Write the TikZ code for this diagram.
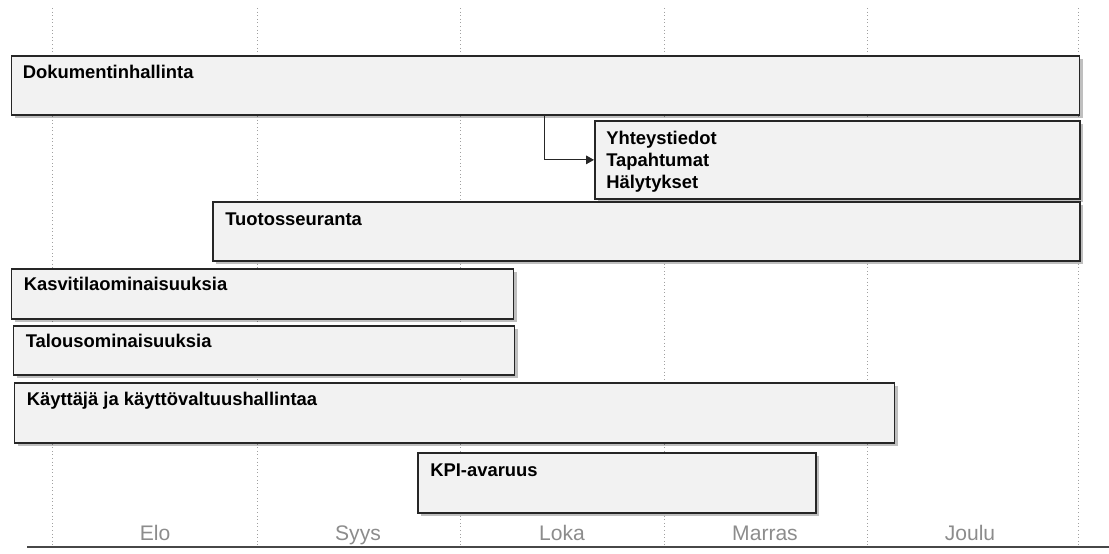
\documentclass[tikz,border=0pt]{standalone}
\usepackage{fontspec}
\setmainfont{Liberation Sans}
\usetikzlibrary{calc,shadows,arrows.meta}
\definecolor{boxfill}{HTML}{F2F2F2}
\definecolor{boxline}{HTML}{262626}
\definecolor{gridc}{HTML}{A0A0A0}
\definecolor{monthc}{HTML}{8C8C8C}
\tikzset{
  bar/.style={draw=boxline, line width=1.3pt, fill=boxfill, anchor=north west, inner sep=0pt,
    drop shadow={shadow xshift=2.4pt, shadow yshift=-2.4pt, fill=black, opacity=0.25}},
  bartext/.style={anchor=base west, inner sep=0pt, font=\fontsize{13.8}{16.5}\selectfont\bfseries, text=black, align=left},
  grid/.style={draw=gridc, dotted, line width=0.7pt},
  month/.style={font=\fontsize{15.8}{18}\selectfont, text=monthc, anchor=base},
  axis/.style={draw=boxline!85, line width=1.6pt}
}
\begin{document}
\begin{tikzpicture}[x=0.75pt,y=-0.75pt]
\useasboundingbox (0,0) rectangle (1109,553);
% grid lines
\foreach \gx/\gn in {52/g0,257/g1,460/g2,664/g3,867/g4,1078/g5}{
  \coordinate (\gn t) at (\gx,8);
  \coordinate (\gn b) at (\gx,546);
  \draw[grid] (\gn t) -- (\gn b);
}
% axis
\coordinate (axl) at (27,547);
\coordinate (axr) at (1109,547);
\draw[axis] (axl) -- (axr);
% months
\node[month] (m1) at (155,540) {Elo};
\node[month] (m2) at (358,540) {Syys};
\node[month] (m3) at (562,540) {Loka};
\node[month] (m4) at (765,540) {Marras};
\node[month] (m5) at (970,540) {Joulu};
% bars
\node[bar, minimum width={1068*0.75pt}, minimum height={59*0.75pt}] (doc) at (10.5,55) {};
\node[bartext] (doct) at ($(doc.north west)+(12,23)$) {Dokumentinhallinta};
\node[bar, minimum width={485*0.75pt}, minimum height={78*0.75pt}] (yht) at (594,120) {};
\node[bartext] (yhtt1) at ($(yht.north west)+(12,24)$) {Yhteystiedot};
\node[bartext] (yhtt2) at ($(yht.north west)+(12,46)$) {Tapahtumat};
\node[bartext] (yhtt3) at ($(yht.north west)+(12,68)$) {Hälytykset};
\node[bar, minimum width={867*0.75pt}, minimum height={59*0.75pt}] (tuo) at (212,201) {};
\node[bartext] (tuot) at ($(tuo.north west)+(13,24)$) {Tuotosseuranta};
\node[bar, minimum width={502*0.75pt}, minimum height={50*0.75pt}] (kas) at (10.5,268) {};
\node[bartext] (kast) at ($(kas.north west)+(13,22)$) {Kasvitilaominaisuuksia};
\node[bar, minimum width={501*0.75pt}, minimum height={49*0.75pt}] (tal) at (12.5,325) {};
\node[bartext] (talt) at ($(tal.north west)+(13,22)$) {Talousominaisuuksia};
\node[bar, minimum width={880*0.75pt}, minimum height={60*0.75pt}] (kay) at (13.5,382) {};
\node[bartext] (kayt) at ($(kay.north west)+(13,23)$) {Käyttäjä ja käyttövaltuushallintaa};
\node[bar, minimum width={398*0.75pt}, minimum height={60*0.75pt}] (kpi) at (417,452) {};
\node[bartext] (kpit) at ($(kpi.north west)+(13,24)$) {KPI-avaruus};
% connector
\coordinate (cs) at ($(doc.south west)+(534,0)$);
\draw[draw=boxline, line width=0.9pt, -{Triangle[length=6pt,width=6.5pt]}] (cs) |- (yht.west);
\end{tikzpicture}
\end{document}
